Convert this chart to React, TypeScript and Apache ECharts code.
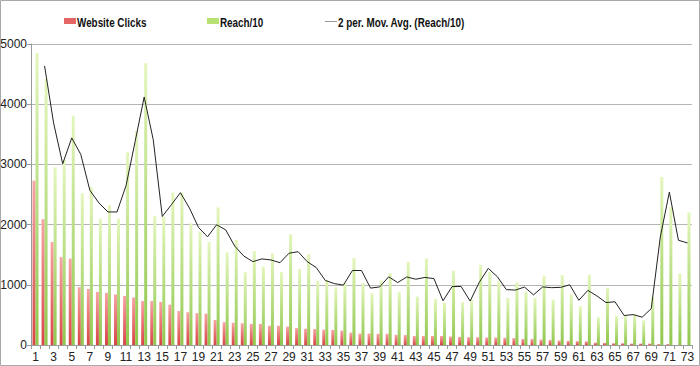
import React, { useEffect, useRef } from "react";
import * as echarts from "echarts";

const categories: string[] = Array.from({ length: 73 }, (_, i) => String(i + 1));

const websiteClicks: number[] = [
  2730, 2090, 1710, 1460, 1435, 960, 930, 880, 865, 840,
  815, 790, 730, 730, 715, 670, 565, 545, 530, 520,
  415, 380, 370, 360, 350, 350, 320, 320, 305, 280,
  270, 265, 255, 250, 240, 205, 190, 190, 185, 185,
  170, 165, 150, 150, 150, 150, 140, 135, 130, 130,
  125, 125, 120, 115, 100, 100, 90, 85, 75, 70,
  65, 60, 40, 35, 30, 30, 25, 25, 25, 15,
  15, 0, 0,
];

const reach10: number[] = [
  4850, 4420, 2950, 3070, 3810, 2520, 2620, 2100, 2320, 2100,
  3200, 3560, 4680, 2140, 2130, 2530, 2530, 2020, 1885, 1710,
  2285, 1540, 1745, 1210, 1560, 1300, 1525, 1210, 1840, 1260,
  1510, 1065, 1080, 960, 1030, 1445, 1030, 860, 1070, 1195,
  880, 1380, 805, 1440, 765, 705, 1235, 710, 750, 1330,
  1215, 1055, 785, 1040, 885, 780, 1150, 755, 1160, 840,
  645, 1170, 460, 950, 485, 495, 515, 410, 800, 2790,
  2290, 1190, 2200,
];

const seriesNames = ["Website Clicks", "Reach/10", "2 per. Mov. Avg. (Reach/10)"];

const yTicks = { min: 0, max: 5000, interval: 1000 };

// 2-period moving average trendline of Reach/10
const movAvg: (number | null)[] = reach10.map((v, i) =>
  i === 0 ? null : (v + reach10[i - 1]) / 2
);

const FONT = "'Liberation Sans', Arial, sans-serif";

function legendText(x: number, text: string) {
  return {
    type: "text",
    x,
    y: 23,
    scaleX: 0.79,
    silent: true,
    style: {
      text,
      x: 0,
      y: 0,
      verticalAlign: "middle",
      align: "left",
      fontFamily: FONT,
      fontWeight: "bold",
      fontSize: 12.5,
      fill: "#111",
    },
  };
}

export default function App() {
  const ref = useRef<HTMLDivElement>(null);
  useEffect(() => {
    if (!ref.current) return;
    const chart = echarts.init(ref.current, null, { renderer: "svg" });
    const redGrad = new echarts.graphic.LinearGradient(0, 0, 0, 1, [
      { offset: 0, color: "#f7a5a5" },
      { offset: 1, color: "#d84545" },
    ]);
    const greenGrad = new echarts.graphic.LinearGradient(0, 0, 0, 1, [
      { offset: 0, color: "#e4f6bd" },
      { offset: 1, color: "#8fc74c" },
    ]);
    chart.setOption({
      animation: false,
      textStyle: { fontFamily: FONT },
      graphic: [
        {
          type: "rect",
          shape: { x: 0.5, y: 0.5, width: 699, height: 365 },
          style: { fill: "none", stroke: "#aaaaaa", lineWidth: 1 },
          silent: true,
        },
        {
          type: "rect",
          shape: { x: 64, y: 18, width: 12, height: 6 },
          style: { fill: "#e56565" },
          silent: true,
        },
        legendText(77, seriesNames[0]),
        {
          type: "rect",
          shape: { x: 207, y: 18, width: 12, height: 6 },
          style: { fill: "#b9e072" },
          silent: true,
        },
        legendText(220, seriesNames[1]),
        {
          type: "line",
          shape: { x1: 325, y1: 21.5, x2: 337, y2: 21.5 },
          style: { stroke: "#999999", lineWidth: 1 },
          silent: true,
        },
        legendText(338, seriesNames[2]),
      ],
      grid: {
        left: 31,
        right: 8,
        top: 44,
        bottom: 21,
        containLabel: false,
        outerBoundsMode: "none",
      },
      xAxis: {
        type: "category",
        data: categories,
        axisLine: { lineStyle: { color: "#9a9a9a" } },
        axisTick: {
          show: true,
          interval: 0,
          length: 4,
          lineStyle: { color: "#9a9a9a" },
        },
        axisLabel: {
          interval: 1,
          fontSize: 12,
          color: "#222",
          margin: 6,
        },
      },
      yAxis: {
        type: "value",
        min: yTicks.min,
        max: yTicks.max,
        interval: yTicks.interval,
        axisLine: { show: true, lineStyle: { color: "#9a9a9a" } },
        axisTick: { show: true, length: 4, lineStyle: { color: "#9a9a9a" } },
        splitLine: { lineStyle: { color: "#b5b5b5", width: 1 } },
        axisLabel: {
          fontSize: 12,
          color: "#222",
          margin: 4,
          formatter: (v: number) => String(v),
        },
      },
      series: [
        {
          name: seriesNames[0],
          type: "bar",
          data: websiteClicks,
          barWidth: 3,
          barGap: "0%",
          itemStyle: { color: redGrad },
        },
        {
          name: seriesNames[1],
          type: "bar",
          data: reach10,
          barWidth: 3,
          itemStyle: { color: greenGrad },
        },
        {
          name: seriesNames[2],
          type: "line",
          data: movAvg,
          symbol: "none",
          lineStyle: { color: "#222", width: 1 },
          itemStyle: { color: "#222" },
          z: 5,
        },
      ],
    });
    return () => chart.dispose();
  }, []);
  return (
    <div
      ref={ref}
      style={{ position: "absolute", left: 0, top: 0, width: 700, height: 366 }}
    />
  );
}
